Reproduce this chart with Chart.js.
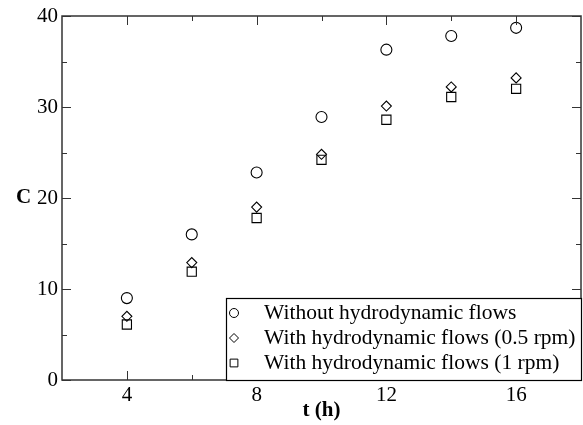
<!DOCTYPE html>
<html>
<head>
<meta charset="utf-8">
<script src="https://cdn.jsdelivr.net/npm/chart.js@4.4.1/dist/chart.umd.min.js"></script>
<style>
  body { margin: 0; background: #fff; }
  #c { display: block; }
</style>
</head>
<body>
<canvas id="c" width="583" height="425"></canvas>
<script>
// ===============================
// Data
// ===============================
const times = [4, 6, 8, 10, 12, 14, 16];
const withoutFlows = [9.0, 16.0, 22.8, 28.9, 36.3, 37.8, 38.7];
const flows05rpm = [7.0, 12.9, 19.0, 24.8, 30.1, 32.2, 33.2];
const flows1rpm = [6.1, 11.9, 17.8, 24.2, 28.6, 31.1, 32.0];
const seriesNames = [
  'Without hydrodynamic flows',
  'With hydrodynamic flows (0.5 rpm)',
  'With hydrodynamic flows (1 rpm)'
];
const xTicks = [4, 8, 12, 16];
const yTicks = [0, 10, 20, 30, 40];
const xMinor = [6, 10, 14];
const yMinor = [5, 15, 25, 35];

const SERIF = '"Liberation Serif", "DejaVu Serif", serif';
const AXIS = '#333';

const pts = ys => times.map((t, i) => ({ x: t, y: ys[i] }));

// ===============================
// Frame, inward ticks, titles, legend box
// ===============================
const framePlugin = {
  id: 'frame',
  afterDraw(chart) {
    const { ctx, chartArea: a, scales: { x, y } } = chart;
    ctx.save();
    ctx.strokeStyle = AXIS;
    ctx.lineWidth = 1.5;
    ctx.strokeRect(a.left, a.top, a.right - a.left, a.bottom - a.top);

    ctx.lineWidth = 1;
    const tickX = (v, len) => {
      const px = Math.round(x.getPixelForValue(v)) + 0.5;
      ctx.beginPath();
      ctx.moveTo(px, a.bottom); ctx.lineTo(px, a.bottom - len);
      ctx.moveTo(px, a.top); ctx.lineTo(px, a.top + len);
      ctx.stroke();
    };
    const tickY = (v, len) => {
      const py = Math.round(y.getPixelForValue(v)) + 0.5;
      ctx.beginPath();
      ctx.moveTo(a.left, py); ctx.lineTo(a.left + len, py);
      ctx.moveTo(a.right, py); ctx.lineTo(a.right - len, py);
      ctx.stroke();
    };
    xTicks.forEach(v => tickX(v, 9));
    xMinor.forEach(v => tickX(v, 5));
    yTicks.forEach(v => tickY(v, 9));
    yMinor.forEach(v => tickY(v, 5));

    // axis titles
    ctx.fillStyle = '#000';
    ctx.font = 'bold 21px ' + SERIF;
    ctx.textBaseline = 'middle';
    ctx.textAlign = 'center';
    ctx.fillText('t (h)', (a.left + a.right) / 2, 411);
    ctx.textAlign = 'left';
    ctx.fillText('C', 16, y.getPixelForValue(20));

    // legend
    const lx = 226, ly = 298, lw = a.right - lx, lh = a.bottom - ly;
    ctx.fillStyle = '#fff';
    ctx.fillRect(lx, ly, lw, lh);
    ctx.strokeStyle = '#000';
    ctx.lineWidth = 1.2;
    ctx.strokeRect(lx + 0.5, ly + 0.5, lw, lh);
    ctx.font = '21.5px ' + SERIF;
    ctx.textAlign = 'left';
    chart.data.datasets.forEach((ds, i) => {
      const cy = 313 + i * 25;
      ctx.strokeStyle = '#000';
      ctx.fillStyle = '#fff';
      ctx.lineWidth = 1;
      Chart.helpers.drawPoint(ctx, {
        pointStyle: ds.pointStyle,
        radius: ds.pointStyle === 'rect' ? 5.5 : 4.5,
        rotation: 0,
        borderWidth: 1
      }, 234, cy);
      ctx.fillStyle = '#000';
      ctx.fillText(ds.label, 264, cy);
    });
    ctx.restore();
  }
};

const mk = (label, ys, style, r) => ({
  label,
  data: pts(ys),
  pointStyle: style,
  pointRadius: r,
  pointHoverRadius: r,
  pointBorderWidth: 1.1,
  borderColor: '#000',
  backgroundColor: 'rgba(0,0,0,0)',
  showLine: false
});

new Chart(document.getElementById('c'), {
  type: 'scatter',
  data: {
    datasets: [
      mk(seriesNames[0], withoutFlows, 'circle', 5.5),
      mk(seriesNames[1], flows05rpm, 'rectRot', 5),
      mk(seriesNames[2], flows1rpm, 'rect', 6.5)
    ]
  },
  options: {
    responsive: false,
    devicePixelRatio: 1,
    animation: false,
    layout: { autoPadding: false, padding: { top: 16, right: 2, left: 0, bottom: 0 } },
    plugins: {
      legend: { display: false },
      tooltip: { enabled: false }
    },
    scales: {
      x: {
        type: 'linear',
        min: 2, max: 18,
        grid: { display: false, drawTicks: false },
        border: { display: false },
        afterBuildTicks: s => { s.ticks = xTicks.map(v => ({ value: v })); },
        afterFit: s => { s.height = 45; s.paddingLeft = 0; s.paddingRight = 0; },
        ticks: { color: '#000', font: { family: SERIF, size: 21 }, padding: 3, maxRotation: 0 }
      },
      y: {
        min: 0, max: 40,
        grid: { display: false, drawTicks: false },
        border: { display: false },
        afterBuildTicks: s => { s.ticks = yTicks.map(v => ({ value: v })); },
        afterFit: s => { s.width = 62; s.paddingTop = 0; s.paddingBottom = 0; },
        ticks: { color: '#000', font: { family: SERIF, size: 21 }, padding: 4 }
      }
    }
  },
  plugins: [framePlugin]
});
</script>
</body>
</html>
